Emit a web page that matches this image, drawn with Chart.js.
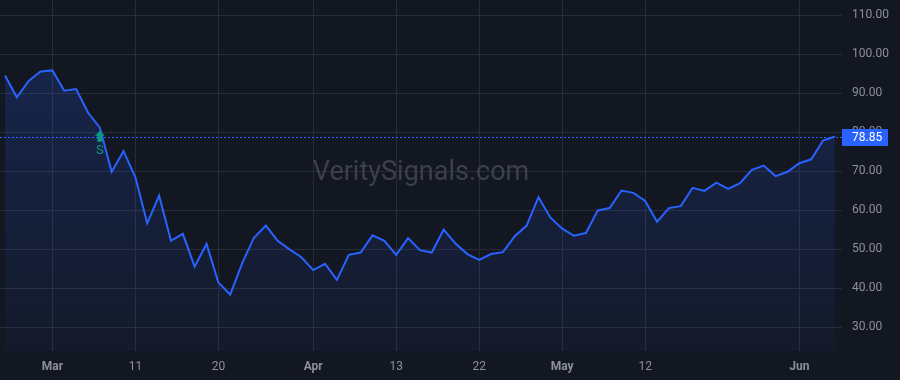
<!DOCTYPE html>
<html>
<head>
<meta charset="utf-8">
<script src="https://cdn.jsdelivr.net/npm/chart.js@4.4.1/dist/chart.umd.min.js"></script>
<style>
  html, body { margin: 0; padding: 0; background: #131722; }
  #wrap { width: 900px; height: 380px; position: relative; }
</style>
</head>
<body>
<div id="wrap"><canvas id="c" width="900" height="380"></canvas></div>
<script>
// ---- data ----
const prices = [
  94.5, 88.9, 93.1, 95.5, 95.8, 90.6, 91.0, 85.0, 81.1, 69.8,
  75.1, 68.4, 56.6, 63.7, 52.1, 53.9, 45.5, 51.3, 41.4, 38.3,
  46.3, 52.9, 56.0, 52.1, 49.9, 47.9, 44.6, 46.2, 42.1, 48.5,
  49.1, 53.5, 52.1, 48.5, 52.8, 49.7, 49.1, 55.0, 51.4, 48.7,
  47.2, 48.7, 49.2, 53.3, 56.0, 63.3, 58.1, 55.2, 53.4, 54.1,
  59.9, 60.5, 65.0, 64.4, 62.3, 57.0, 60.5, 61.0, 65.7, 64.9,
  67.0, 65.4, 66.9, 70.3, 71.4, 68.7, 69.8, 72.0, 73.0, 77.8,
  78.85
];
const tickIndex = [4, 11, 18, 26, 33, 40, 47, 54, 67];
const tickText  = ["Mar", "11", "20", "Apr", "13", "22", "May", "12", "Jun"];
const monthLabels = ["Mar", "Apr", "May", "Jun"];
const priceTicks = [30, 40, 50, 60, 70, 80, 90, 100, 110];
const signalIndex = [8];
const signalText = ["S"];
const watermark = "VeritySignals.com";

// ---- styles ----
const BG = '#131722';
const GRID = '#282c38';
const TEXT = '#8c909b';
const LINE = '#2962ff';
const SIG = '#0b9981';
const FONT = "Roboto, 'Noto Sans', sans-serif";

const points = prices.map((v, i) => ({ x: i, y: v }));
const lastPrice = prices[prices.length - 1];

const bgPlugin = {
  id: 'bg',
  beforeDraw(chart) {
    const ctx = chart.ctx;
    ctx.save();
    ctx.fillStyle = BG;
    ctx.fillRect(0, 0, chart.width, chart.height);
    ctx.restore();
  }
};

const watermarkPlugin = {
  id: 'wm',
  beforeDatasetsDraw(chart) {
    const { ctx, chartArea } = chart;
    ctx.save();
    ctx.font = "27px " + FONT;
    ctx.fillStyle = '#3c404b';
    ctx.textAlign = 'center';
    ctx.textBaseline = 'middle';
    ctx.fillText(watermark, (chartArea.left + chartArea.right) / 2, (chartArea.top + chartArea.bottom) / 2 - 2);
    ctx.restore();
  }
};

const overlayPlugin = {
  id: 'overlay',
  afterDatasetsDraw(chart) {
    const { ctx, chartArea, scales } = chart;
    const xs = scales.x, ys = scales.y;
    ctx.save();
    const py = Math.round(ys.getPixelForValue(lastPrice)) + 0.5;
    ctx.strokeStyle = LINE;
    ctx.lineWidth = 1;
    ctx.setLineDash([2, 2]);
    ctx.beginPath();
    ctx.moveTo(chartArea.left, py);
    ctx.lineTo(chartArea.right, py);
    ctx.stroke();
    ctx.setLineDash([]);
    signalIndex.forEach((idx, k) => {
      const x = xs.getPixelForValue(idx);
      const y = ys.getPixelForValue(prices[idx]) + 3;
      ctx.fillStyle = SIG;
      ctx.beginPath();
      ctx.moveTo(x, y);
      ctx.lineTo(x + 5, y + 5);
      ctx.lineTo(x + 2.5, y + 5);
      ctx.lineTo(x + 2.5, y + 11);
      ctx.lineTo(x - 2.5, y + 11);
      ctx.lineTo(x - 2.5, y + 5);
      ctx.lineTo(x - 5, y + 5);
      ctx.closePath();
      ctx.fill();
      ctx.font = "13px " + FONT;
      ctx.textAlign = 'center';
      ctx.textBaseline = 'middle';
      ctx.fillText(signalText[k], x, y + 20);
    });
    ctx.restore();
  },
  afterDraw(chart) {
    const { ctx, chartArea, scales } = chart;
    const ys = scales.y;
    const py = Math.round(ys.getPixelForValue(lastPrice));
    ctx.save();
    ctx.fillStyle = LINE;
    ctx.fillRect(chartArea.right, py - 8, 46, 17);
    ctx.fillStyle = '#ffffff';
    ctx.font = "12px " + FONT;
    ctx.textAlign = 'left';
    ctx.textBaseline = 'middle';
    ctx.fillText(lastPrice.toFixed(2), chartArea.right + 10, py + 1);
    ctx.restore();
  }
};

new Chart(document.getElementById('c'), {
  type: 'line',
  data: {
    datasets: [{
      data: points,
      borderColor: LINE,
      borderWidth: 2,
      pointRadius: 0,
      tension: 0,
      fill: 'start',
      backgroundColor(context) {
        const ca = context.chart.chartArea;
        if (!ca) return 'rgba(41,98,255,0.15)';
        const g = context.chart.ctx.createLinearGradient(0, ca.top, 0, ca.bottom);
        g.addColorStop(0, 'rgba(41,98,255,0.22)');
        g.addColorStop(1, 'rgba(41,98,255,0.04)');
        return g;
      }
    }]
  },
  options: {
    responsive: false,
    animation: false,
    layout: { padding: 0 },
    plugins: { legend: { display: false }, tooltip: { enabled: false } },
    scales: {
      x: {
        type: 'linear',
        min: -0.42,
        max: 70.6,
        afterBuildTicks(axis) { axis.ticks = tickIndex.map(v => ({ value: v })); },
        afterFit(axis) { axis.height = 29; axis.paddingLeft = 0; axis.paddingRight = 0; },
        grid: { color: GRID, drawTicks: false },
        border: { display: false },
        ticks: {
          autoSkip: false,
          maxRotation: 0,
          padding: 9,
          color: TEXT,
          font(ctx) {
            const t = tickText[tickIndex.indexOf(ctx.tick && ctx.tick.value)];
            return { family: FONT, size: 12, weight: monthLabels.includes(t) ? 'bold' : 'normal' };
          },
          callback(v) {
            const i = tickIndex.indexOf(v);
            return i >= 0 ? tickText[i] : '';
          }
        }
      },
      y: {
        position: 'right',
        min: 23.85,
        max: 113.85,
        afterBuildTicks(axis) { axis.ticks = priceTicks.map(v => ({ value: v })); },
        afterFit(axis) { axis.width = 58; axis.paddingTop = 0; axis.paddingBottom = 0; },
        grid: { color: GRID, drawTicks: false },
        border: { display: false },
        ticks: {
          padding: 10,
          color: TEXT,
          font: { family: FONT, size: 12 },
          callback(v) { return Number(v).toFixed(2); }
        }
      }
    }
  },
  plugins: [bgPlugin, watermarkPlugin, overlayPlugin]
});
</script>
</body>
</html>
